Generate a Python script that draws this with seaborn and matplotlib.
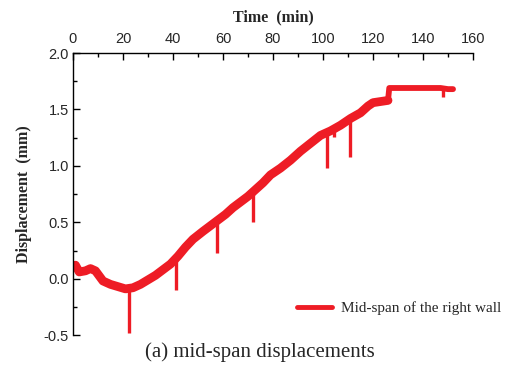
import matplotlib
matplotlib.use("Agg")
import matplotlib.pyplot as plt
import seaborn as sns
import numpy as np
import pandas as pd
from matplotlib.ticker import MultipleLocator

# ---- data ----
time_min = [0, 1, 2.5, 5, 7, 9, 12, 15, 18, 21, 24, 27, 30, 33, 36, 39, 42, 45,
            48, 52, 55, 58, 61, 64, 67, 70, 73, 76, 79, 83, 87, 91, 95, 99, 103,
            107, 111, 115, 118, 120, 123, 126, 126.5, 130, 140, 147, 150, 152]
displacement = [0.11, 0.12, 0.06, 0.07, 0.09, 0.07, -0.02, -0.05, -0.07, -0.09,
                -0.08, -0.05, -0.01, 0.03, 0.08, 0.13, 0.20, 0.28, 0.35, 0.42,
                0.47, 0.52, 0.57, 0.63, 0.68, 0.73, 0.79, 0.85, 0.92, 0.98, 1.05,
                1.13, 1.20, 1.27, 1.31, 1.36, 1.42, 1.47, 1.53, 1.56, 1.57, 1.58,
                1.69, 1.69, 1.69, 1.69, 1.68, 1.68]
spike_t = [22.5, 41.2, 57.6, 72.0, 101.6, 104.5, 110.8, 148.0]
spike_top = [-0.08, 0.17, 0.52, 0.76, 1.30, 1.33, 1.41, 1.69]
spike_low = [-0.48, -0.10, 0.23, 0.50, 0.98, 1.26, 1.08, 1.61]

x_ticks = [0, 20, 40, 60, 80, 100, 120, 140, 160]
y_ticks = [-0.5, 0.0, 0.5, 1.0, 1.5, 2.0]
series_label = "Mid-span of the right wall"
caption = "(a) mid-span displacements"

RED = "#EE1C25"

sns.set_style("ticks")
plt.rcParams["font.family"] = ["Liberation Sans", "DejaVu Sans"]
plt.rcParams["axes.unicode_minus"] = False

fig = plt.figure(figsize=(5.25, 3.8), dpi=100)
ax = fig.add_axes([0.139, 0.118, 0.762, 0.7425])

df = pd.DataFrame({"t": time_min, "d": displacement})
rise = df[df["t"] <= 126]
plateau = df[df["t"] >= 126]

sns.lineplot(data=rise, x="t", y="d", ax=ax, color=RED, lw=6.3,
             label=series_label, solid_joinstyle="round", solid_capstyle="round")
sns.lineplot(data=plateau, x="t", y="d", ax=ax, color=RED, lw=4.2,
             legend=False, solid_joinstyle="round", solid_capstyle="round")
ax.vlines(spike_t, spike_low, spike_top, color=RED, lw=2.4)

ax.set_xlim(0, 160)
ax.set_ylim(-0.5, 2.0)
ax.set_xticks(x_ticks)
ax.set_yticks(y_ticks)
ax.set_yticklabels([f"{v:.1f}" for v in y_ticks])
ax.xaxis.set_minor_locator(MultipleLocator(10))
ax.yaxis.set_minor_locator(MultipleLocator(0.25))

ax.xaxis.tick_top()
ax.xaxis.set_label_position("top")
ax.tick_params(axis="x", which="both", direction="in", top=True, bottom=False,
               labeltop=True, labelbottom=False, labelsize=10.5, pad=5, color="black")
ax.tick_params(axis="y", which="both", direction="in", left=True, right=False,
               labelsize=10.5, pad=3, color="black")
ax.tick_params(which="major", length=5, width=1)
ax.tick_params(which="minor", length=3, width=1)

for side in ["left", "top"]:
    ax.spines[side].set_visible(True)
    ax.spines[side].set_color("black")
    ax.spines[side].set_linewidth(1.0)
for side in ["right", "bottom"]:
    ax.spines[side].set_visible(False)

ax.set_xlabel("Time  (min)", fontfamily="Liberation Serif", fontweight="bold",
              fontsize=11.5, labelpad=8)
ax.set_ylabel("Displacement  (mm)", fontfamily="Liberation Serif", fontweight="bold",
              fontsize=11.5, labelpad=8)

leg = ax.legend(loc="center left", bbox_to_anchor=(0.525, 0.096), frameon=False,
                handlelength=2.3, handletextpad=0.6,
                prop={"family": "Liberation Serif", "size": 11})
for h in leg.get_lines():
    h.set_linewidth(3.5)

fig.text(0.495, 0.074, caption, ha="center", va="center",
         fontfamily="Liberation Serif", fontsize=15)

fig.savefig("out.png", dpi=100)
